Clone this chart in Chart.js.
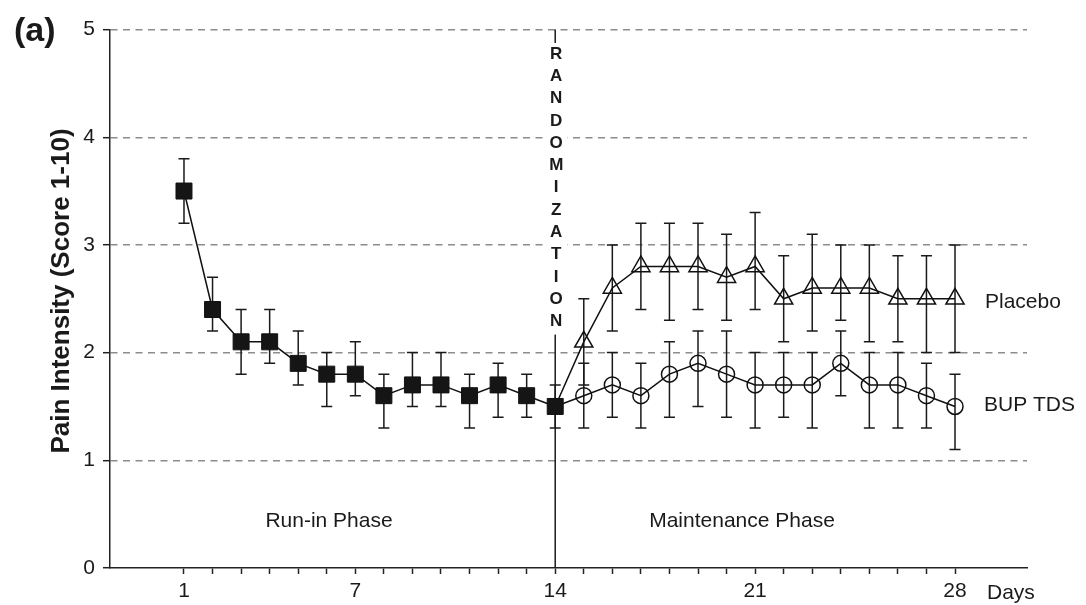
<!DOCTYPE html>
<html>
<head>
<meta charset="utf-8">
<script src="https://cdn.jsdelivr.net/npm/chart.js@4.4.1/dist/chart.umd.min.js"></script>
<style>
  html, body { margin: 0; padding: 0; background: #ffffff; }
  #wrap { width: 1086px; height: 605px; position: relative; }
</style>
</head>
<body>
<div id="wrap"><canvas id="c" width="1086" height="605"></canvas></div>
<script>
// ---- data ----
const days = [1,2,3,4,5,6,7,8,9,10,11,12,13,14,15,16,17,18,19,20,21,22,23,24,25,26,27,28];
const xTickLabels = [1, 7, 14, 21, 28];
const yTickValues = [0, 1, 2, 3, 4, 5];

const runInDays  = [1,2,3,4,5,6,7,8,9,10,11,12,13,14];
const runInMean  = [3.5,2.4,2.1,2.1,1.9,1.8,1.8,1.6,1.7,1.7,1.6,1.7,1.6,1.5];
const runInUpper = [3.8,2.7,2.4,2.4,2.2,2.0,2.1,1.8,2.0,2.0,1.8,1.9,1.8,1.7];
const runInLower = [3.2,2.2,1.8,1.9,1.7,1.5,1.6,1.3,1.5,1.5,1.3,1.4,1.4,1.3];

// maintenance phase: first entry (day 14) is the randomization point joining the run-in line
const maintDays    = [14,15,16,17,18,19,20,21,22,23,24,25,26,27,28];
const placeboMean  = [1.5,2.1,2.6,2.8,2.8,2.8,2.7,2.8,2.5,2.6,2.6,2.6,2.5,2.5,2.5];
const placeboUpper = [null,2.5,3.0,3.2,3.2,3.2,3.1,3.3,2.9,3.1,3.0,3.0,2.9,2.9,3.0];
const placeboLower = [null,1.7,2.2,2.4,2.3,2.4,2.3,2.4,2.1,2.2,2.3,2.1,2.1,2.0,2.0];
const bupMean      = [1.5,1.6,1.7,1.6,1.8,1.9,1.8,1.7,1.7,1.7,1.9,1.7,1.7,1.6,1.5];
const bupUpper     = [null,1.9,2.0,1.9,2.1,2.2,2.2,2.0,2.0,2.0,2.2,2.0,2.0,1.9,1.8];
const bupLower     = [null,1.3,1.4,1.3,1.4,1.5,1.4,1.3,1.4,1.3,1.6,1.3,1.3,1.3,1.1];

const randomizationDay = 14;
const randomizationText = "RANDOMIZATION";
const seriesLabels = ["Placebo", "BUP TDS"];
const phaseLabels = ["Run-in Phase", "Maintenance Phase"];
const yTitle = "Pain Intensity (Score 1-10)";
const xUnit = "Days";
const panelLabel = "(a)";

// ---- styling ----
const FONT = "'Liberation Sans', Arial, Helvetica, sans-serif";
const INK = '#1a1a1a';

const toXY = (xs, ys) => xs.map((x, i) => ({ x: x, y: ys[i] }));

const errorSets = [
  { xs: runInDays, hi: runInUpper, lo: runInLower },
  { xs: maintDays, hi: placeboUpper, lo: placeboLower },
  { xs: maintDays, hi: bupUpper, lo: bupLower }
];

const overlay = {
  id: 'overlay',
  beforeDatasetsDraw(chart) {
    const ctx = chart.ctx;
    const xs = chart.scales.x, ys = chart.scales.y;
    const area = chart.chartArea;
    const rx = xs.getPixelForValue(randomizationDay);
    ctx.save();
    // randomization line
    ctx.strokeStyle = INK;
    ctx.lineWidth = 1.5;
    ctx.beginPath();
    ctx.moveTo(rx, area.top);
    ctx.lineTo(rx, area.bottom);
    ctx.stroke();
    // white background behind vertical letters
    const letters = randomizationText.split('');
    const step = 22.3;
    const firstY = 54;
    ctx.fillStyle = '#ffffff';
    ctx.fillRect(rx - 12, firstY - 11, 24, step * (letters.length - 1) + 24);
    ctx.fillStyle = INK;
    ctx.font = "bold 17px " + FONT;
    ctx.textAlign = 'center';
    ctx.textBaseline = 'middle';
    letters.forEach((ch, i) => ctx.fillText(ch, rx + 1, firstY + i * step));

    // error bars
    ctx.strokeStyle = INK;
    ctx.lineWidth = 1.5;
    const cap = 5.5;
    errorSets.forEach(s => {
      s.xs.forEach((d, i) => {
        if (s.hi[i] == null || s.lo[i] == null) return;
        const px = xs.getPixelForValue(d);
        const yh = ys.getPixelForValue(s.hi[i]);
        const yl = ys.getPixelForValue(s.lo[i]);
        ctx.beginPath();
        ctx.moveTo(px, yh); ctx.lineTo(px, yl);
        ctx.moveTo(px - cap, yh); ctx.lineTo(px + cap, yh);
        ctx.moveTo(px - cap, yl); ctx.lineTo(px + cap, yl);
        ctx.stroke();
      });
    });
    ctx.restore();
  },
  afterDraw(chart) {
    const ctx = chart.ctx;
    ctx.save();
    ctx.fillStyle = INK;
    ctx.textBaseline = 'middle';
    // panel label
    ctx.font = "bold 34px " + FONT;
    ctx.textAlign = 'left';
    ctx.fillText(panelLabel, 14, 32);
    // series labels
    ctx.font = "21px " + FONT;
    ctx.fillText(seriesLabels[0], 985, 302);
    ctx.fillText(seriesLabels[1], 984, 405);
    // x unit
    ctx.fillText(xUnit, 987, 593);
    // phase labels
    ctx.textAlign = 'center';
    ctx.fillText(phaseLabels[0], 329, 521);
    ctx.fillText(phaseLabels[1], 742, 521);
    // y title
    ctx.font = "bold 26px " + FONT;
    ctx.translate(62, 291);
    ctx.rotate(-Math.PI / 2);
    ctx.fillText(yTitle, 0, 0);
    ctx.restore();
  }
};

new Chart(document.getElementById('c'), {
  type: 'line',
  data: {
    datasets: [
      {
        label: 'Run-in',
        data: toXY(runInDays, runInMean),
        borderColor: '#111',
        borderWidth: 1.5,
        pointStyle: 'rect',
        pointRadius: 11.3,
        pointBackgroundColor: '#151515',
        pointBorderColor: '#111',
        pointBorderWidth: 1,
        tension: 0
      },
      {
        label: seriesLabels[0],
        data: toXY(maintDays, placeboMean),
        borderColor: '#111',
        borderWidth: 1.5,
        pointStyle: 'triangle',
        pointRadius: c => c.dataIndex === 0 ? 0 : 10.5,
        pointBackgroundColor: 'rgba(0,0,0,0)',
        pointBorderColor: '#111',
        pointBorderWidth: 1.5,
        tension: 0
      },
      {
        label: seriesLabels[1],
        data: toXY(maintDays, bupMean),
        borderColor: '#111',
        borderWidth: 1.5,
        pointStyle: 'circle',
        pointRadius: c => c.dataIndex === 0 ? 0 : 8,
        pointBackgroundColor: 'rgba(0,0,0,0)',
        pointBorderColor: '#111',
        pointBorderWidth: 1.5,
        tension: 0
      }
    ]
  },
  options: {
    responsive: false,
    animation: false,
    devicePixelRatio: 1,
    layout: { padding: { left: 0, right: 59, top: 29.5, bottom: 0 } },
    plugins: { legend: { display: false }, tooltip: { enabled: false } },
    scales: {
      x: {
        type: 'linear',
        min: -1.591,
        max: 30.521,
        afterBuildTicks: ax => { ax.ticks = days.map(v => ({ value: v })); },
        afterFit: s => { s.height = 37; },
        ticks: {
          autoSkip: false,
          maxRotation: 0,
          minRotation: 0,
          padding: 5,
          color: INK,
          font: { family: FONT, size: 21 },
          callback: v => xTickLabels.includes(v) ? String(v) : ''
        },
        grid: { drawOnChartArea: false, drawTicks: true, tickLength: 6, tickColor: '#222', tickWidth: 1.5 },
        border: { display: true, color: '#222', width: 1.5 }
      },
      y: {
        min: 0,
        max: 5,
        afterBuildTicks: ax => { ax.ticks = yTickValues.map(v => ({ value: v })); },
        afterFit: s => { s.width = 110; },
        ticks: {
          padding: 8,
          color: INK,
          font: { family: FONT, size: 21 }
        },
        grid: {
          color: c => (c.tick && c.tick.value === 0) ? 'rgba(0,0,0,0)' : '#8c8c8c',
          lineWidth: 1.4,
          drawTicks: true,
          tickLength: 7,
          tickColor: '#222',
          tickWidth: 1.5,
          tickBorderDash: []
        },
        border: { display: true, color: '#222', width: 1.5, dash: [7, 5.5] }
      }
    }
  },
  plugins: [overlay]
});
</script>
</body>
</html>
